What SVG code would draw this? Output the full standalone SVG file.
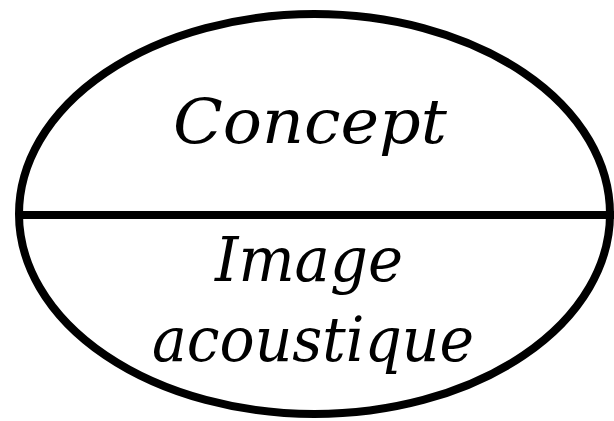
<svg xmlns="http://www.w3.org/2000/svg" width="614" height="421" viewBox="0 0 614 421">
<style>
.t{font-family:"DejaVu Serif",serif;font-style:italic;font-size:62px;fill:#000;text-anchor:middle}
.s{fill:none;stroke:#000;stroke-width:8}
</style>
<rect width="614" height="421" fill="#fff"/>
<g id="sign">
<ellipse class="s" cx="314.5" cy="214" rx="295.5" ry="200"/>
</g>
<g id="connectors">
<line class="s" x1="19" y1="215" x2="614" y2="215" stroke-width="10"/>
</g>
<g id="concept">
<text class="t" x="310" y="143" textLength="274" lengthAdjust="spacingAndGlyphs">Concept</text>
</g>
<g id="image-acoustique">
<text class="t" x="309" y="281" textLength="188" lengthAdjust="spacingAndGlyphs">Image</text>
<text class="t" x="313" y="361" textLength="322" lengthAdjust="spacingAndGlyphs">acoustique</text>
</g>
</svg>
